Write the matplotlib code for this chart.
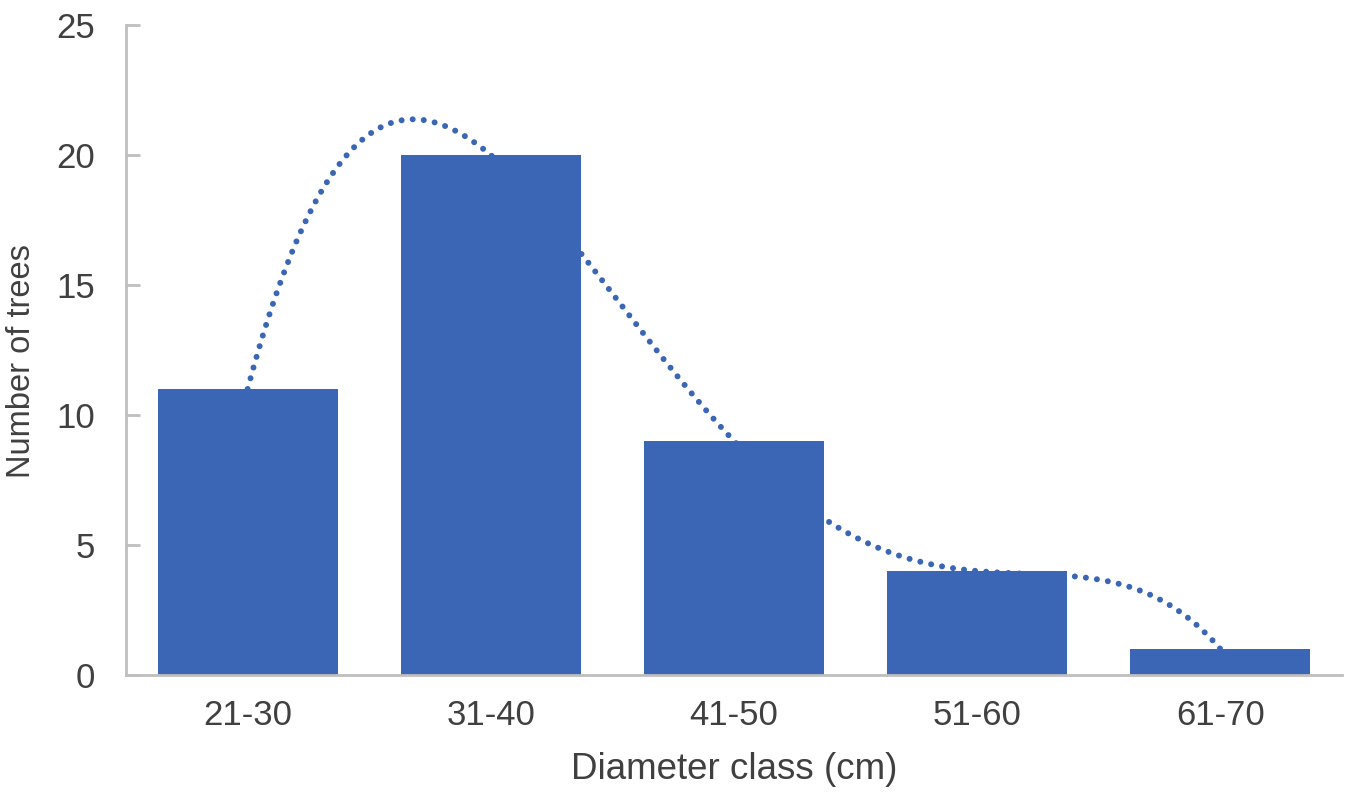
import numpy as np
import matplotlib
matplotlib.use("Agg")
import matplotlib.pyplot as plt

categories = ["21-30", "31-40", "41-50", "51-60", "61-70"]
counts = [11, 20, 9, 4, 1]
y_ticks = [0, 5, 10, 15, 20, 25]

plt.rcParams['font.family'] = ['Liberation Sans', 'DejaVu Sans']

fig = plt.figure(figsize=(13.55, 7.95), dpi=100)
ax = fig.add_axes([126/1355, 120/795, (1342-126)/1355, (675-25)/795])

bar_color = "#3A66B5"
text_color = "#404040"
x = np.arange(len(categories))

# 4th-order polynomial trendline (drawn behind bars)
coef = np.polyfit(x, counts, 4)
xs = np.linspace(x[0], x[-1], 400)
ax.plot(xs, np.polyval(coef, xs), color=bar_color, linewidth=4.3,
        linestyle=(0, (0.01, 1.85)), dash_capstyle='round', zorder=1)

ax.bar(x, counts, width=0.74, color=bar_color, zorder=2)

ax.set_xlim(-0.5, len(categories) - 0.5)
ax.set_ylim(0, 25)
ax.set_yticks(y_ticks)
ax.set_xticks(x)
ax.set_xticklabels(categories)

for s in ["top", "right"]:
    ax.spines[s].set_visible(False)
for s in ["left", "bottom"]:
    ax.spines[s].set_color("#BFBFBF")
    ax.spines[s].set_linewidth(2)

ax.tick_params(axis='y', direction='in', length=10, width=2, color="#BFBFBF",
               labelsize=25, labelcolor=text_color, pad=22)
ax.tick_params(axis='x', length=0, labelsize=25, labelcolor=text_color, pad=17)

ax.set_xlabel("Diameter class (cm)", fontsize=26.5, color=text_color, labelpad=15)
ax.set_ylabel("Number of trees", fontsize=23.5, color=text_color)
ax.yaxis.set_label_coords(-0.073, 0.483)

fig.savefig("out.png", dpi=100, facecolor="white")
